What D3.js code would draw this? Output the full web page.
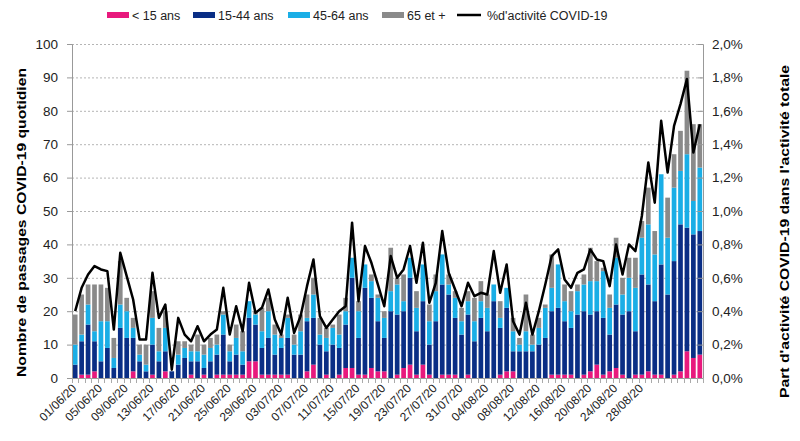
<!DOCTYPE html>
<html><head><meta charset="utf-8">
<script src="https://cdn.jsdelivr.net/npm/d3@7/dist/d3.min.js"></script>
<style>body{margin:0;background:#fff}svg{display:block}text{font-family:Arial,"Liberation Sans",sans-serif}</style>
</head><body><svg id="c" width="800" height="441"></svg>
<script>
const dates = ["01/06/20","02/06/20","03/06/20","04/06/20","05/06/20","06/06/20","07/06/20","08/06/20","09/06/20","10/06/20",
"11/06/20","12/06/20","13/06/20","14/06/20","15/06/20","16/06/20","17/06/20","18/06/20","19/06/20","20/06/20",
"21/06/20","22/06/20","23/06/20","24/06/20","25/06/20","26/06/20","27/06/20","28/06/20","29/06/20","30/06/20",
"01/07/20","02/07/20","03/07/20","04/07/20","05/07/20","06/07/20","07/07/20","08/07/20","09/07/20","10/07/20",
"11/07/20","12/07/20","13/07/20","14/07/20","15/07/20","16/07/20","17/07/20","18/07/20","19/07/20","20/07/20",
"21/07/20","22/07/20","23/07/20","24/07/20","25/07/20","26/07/20","27/07/20","28/07/20","29/07/20","30/07/20",
"31/07/20","01/08/20","02/08/20","03/08/20","04/08/20","05/08/20","06/08/20","07/08/20","08/08/20","09/08/20",
"10/08/20","11/08/20","12/08/20","13/08/20","14/08/20","15/08/20","16/08/20","17/08/20","18/08/20","19/08/20",
"20/08/20","21/08/20","22/08/20","23/08/20","24/08/20","25/08/20","26/08/20","27/08/20","28/08/20","29/08/20",
"30/08/20","31/08/20","01/09/20","02/09/20","03/09/20","04/09/20","05/09/20","06/09/20"];
const tickLabels = ["01/06/20","05/06/20","09/06/20","13/06/20","17/06/20","21/06/20","25/06/20","29/06/20","03/07/20","07/07/20",
"11/07/20","15/07/20","19/07/20","23/07/20","27/07/20","31/07/20","04/08/20","08/08/20","12/08/20","16/08/20","20/08/20","24/08/20","28/08/20"];
const under15 = [0,1,1,2,0,0,0,0,0,2, 0,0,1,0,2,0,0,0,1,0, 1,0,1,1,1,1,1,5,5,1, 1,1,1,1,0,0,2,4,0,1,
 0,1,3,3,1,1,3,2,2,0, 1,3,4,1,4,1,0,1,1,1, 0,1,0,0,0,0,1,2,2,0, 0,0,0,0,1,1,1,1,0,1, 2,4,1,2,3,1,0,1,1,2, 1,1,0,1,2,8,6,7];
const age15_44 = [4,10,15,9,5,9,3,15,12,10, 5,2,9,5,6,2,4,6,4,5, 2,5,6,12,4,6,3,13,11,8, 11,6,8,11,7,7,15,14,10,7,
 10,8,13,27,11,26,21,15,10,20, 18,17,26,13,19,9,17,27,24,17, 13,18,11,18,14,23,14,19,6,8, 8,8,10,12,19,20,16,14,19,19, 17,16,17,11,19,18,20,13,30,26, 22,33,25,34,44,37,37,37];
const age45_64 = [6,2,6,3,12,8,3,7,8,3, 2,2,8,3,7,0,3,3,3,3, 4,4,3,6,3,5,4,5,3,5, 8,6,3,6,3,7,1,7,3,4,
 5,4,4,6,8,7,5,7,6,6, 9,3,6,7,11,7,9,9,3,6, 4,4,6,5,7,5,3,6,6,2, 6,2,5,9,7,13,6,5,7,8, 10,9,14,8,14,6,10,13,11,18, 14,27,17,22,16,22,10,19];
const age65plus = [9,12,6,14,11,10,6,13,4,3, 3,6,8,7,5,0,4,2,2,5, 3,3,3,1,2,4,6,0,1,7, 4,3,1,1,3,5,7,5,5,3,
 1,6,4,0,3,0,2,1,2,13, 2,8,0,5,0,5,5,0,3,2, 4,3,7,6,4,0,5,0,4,2, 11,3,3,1,10,0,5,6,2,3, 10,6,1,4,6,5,6,9,5,11, 7,0,12,10,12,25,23,13];
const pctActivite = [0.40,0.54,0.62,0.67,0.65,0.64,0.29,0.75,0.61,0.47, 0.23,0.23,0.63,0.36,0.44,0.05,0.36,0.26,0.22,0.31,
 0.22,0.26,0.29,0.54,0.26,0.43,0.28,0.57,0.39,0.42, 0.53,0.35,0.26,0.48,0.27,0.37,0.55,0.71,0.37,0.30,
 0.35,0.40,0.43,0.93,0.46,0.79,0.69,0.56,0.43,0.73, 0.60,0.65,0.79,0.57,0.81,0.45,0.57,0.88,0.63,0.53,
 0.43,0.57,0.49,0.51,0.50,0.76,0.51,0.68,0.34,0.26, 0.45,0.26,0.40,0.56,0.73,0.77,0.59,0.54,0.63,0.65,
 0.77,0.71,0.70,0.55,0.80,0.62,0.80,0.76,0.97,1.29, 1.05,1.54,1.23,1.51,1.64,1.79,1.35,1.52];
const seriesNames = ["< 15 ans","15-44 ans","45-64 ans","65 et +"];
const seriesColors = ["#E8197D","#0A2E85","#1AAEE6","#8A8A8A"];
const lineName = "%d'activité COVID-19";
const leftTicks = [0,10,20,30,40,50,60,70,80,90,100];
const rightTicks = [0,0.2,0.4,0.6,0.8,1.0,1.2,1.4,1.6,1.8,2.0];

const svg = d3.select("#c");
const L = 72, R = 703, T = 44, B = 378;
const x = d3.scaleBand().domain(dates).range([L, R]).paddingInner(0.27).paddingOuter(0.13);
const y = d3.scaleLinear().domain([0,100]).range([B, T]);
const y2 = d3.scaleLinear().domain([0,2]).range([B, T]);

// gridlines
svg.append("g").selectAll("line").data(leftTicks.filter(d=>d>0)).join("line")
  .attr("x1", L).attr("x2", R).attr("y1", d=>y(d)+0.5).attr("y2", d=>y(d)+0.5)
  .attr("stroke", "#b5b5b5").attr("stroke-width", 1).attr("stroke-dasharray", "2,2");

// stacked bars
const table = dates.map((d,i)=>({date:d, s0:under15[i], s1:age15_44[i], s2:age45_64[i], s3:age65plus[i]}));
const stack = d3.stack().keys(["s0","s1","s2","s3"])(table);
svg.append("g").selectAll("g").data(stack).join("g").attr("fill", (d,i)=>seriesColors[i])
  .selectAll("rect").data(d=>d).join("rect")
  .attr("x", d=>x(d.data.date)).attr("width", x.bandwidth())
  .attr("y", d=>y(d[1])).attr("height", d=>y(d[0])-y(d[1]));

// axes
const fs = "13.5px";
const ax = svg.append("g").attr("transform", `translate(${L},0)`).call(d3.axisLeft(y).tickValues(leftTicks).tickSize(5).tickPadding(9));
ax.select(".domain").attr("stroke", "#999");
ax.selectAll(".tick line").attr("stroke", "#999");
ax.selectAll("text").attr("font-size", fs).attr("fill", "#222").style("font-family","Arial, 'Liberation Sans', sans-serif");

const ax2 = svg.append("g").attr("transform", `translate(${R},0)`).call(d3.axisRight(y2).tickValues(rightTicks).tickSize(-5).tickPadding(9).tickFormat(d=>d.toFixed(1).replace(".",",")+"%"));
ax2.select(".domain").attr("stroke", "#999");
ax2.selectAll(".tick line").attr("stroke", "#999");
ax2.selectAll("text").attr("font-size", fs).attr("fill", "#222").attr("x", 9).style("font-family","Arial, 'Liberation Sans', sans-serif");

// bottom axis
svg.append("line").attr("x1", L).attr("x2", R).attr("y1", B+0.5).attr("y2", B+0.5).attr("stroke", "#999");
const tickPos = d3.range(dates.length+1).map(i => x.range()[0] + i*(x.range()[1]-x.range()[0])/dates.length);
svg.append("g").selectAll("line").data(tickPos).join("line")
  .attr("x1", d=>Math.round(d)+0.5).attr("x2", d=>Math.round(d)+0.5).attr("y1", B).attr("y2", B+5).attr("stroke", "#aaa");
svg.append("g").selectAll("text").data(tickLabels).join("text")
  .attr("transform", d=>`translate(${x(d)+x.bandwidth()/2+2},${B+11}) rotate(-45)`)
  .attr("text-anchor", "end").attr("font-size", "12px").attr("fill", "#222").text(d=>d);

// line
const line = d3.line().x((d,i)=>x(dates[i])+x.bandwidth()/2).y(d=>y2(d));
svg.append("path").datum(pctActivite).attr("d", line).attr("fill","none").attr("stroke","#000").attr("stroke-width",2.5).attr("stroke-linejoin","round");

// axis titles
svg.append("text").attr("transform", "translate(26,222.5) rotate(-90)").attr("text-anchor","middle")
  .attr("font-size","13px").attr("font-weight","bold").attr("fill","#000")
  .attr("textLength", 309).attr("lengthAdjust","spacingAndGlyphs").text("Nombre de passages COVID-19 quotidien");
svg.append("text").attr("transform", "translate(789,231.5) rotate(-90)").attr("text-anchor","middle")
  .attr("font-size","13px").attr("font-weight","bold").attr("fill","#000")
  .attr("textLength", 333).attr("lengthAdjust","spacingAndGlyphs").text("Part d'activité COVID-19 dans l'activité totale");

// legend
const legTextX = [132, 218, 313, 407];
const lg = svg.append("g");
seriesNames.forEach((n,i)=>{
  lg.append("rect").attr("x", legTextX[i]-25).attr("y", 12).attr("width", 22).attr("height", 6).attr("fill", seriesColors[i]);
  lg.append("text").attr("x", legTextX[i]).attr("y", 20).attr("font-size","12.5px").attr("fill","#222").text(n);
});
lg.append("line").attr("x1", 457).attr("x2", 481).attr("y1", 15).attr("y2", 15).attr("stroke","#000").attr("stroke-width",2.5);
lg.append("text").attr("x", 487).attr("y", 20).attr("font-size","12.5px").attr("fill","#222").text(lineName);
</script></body></html>
